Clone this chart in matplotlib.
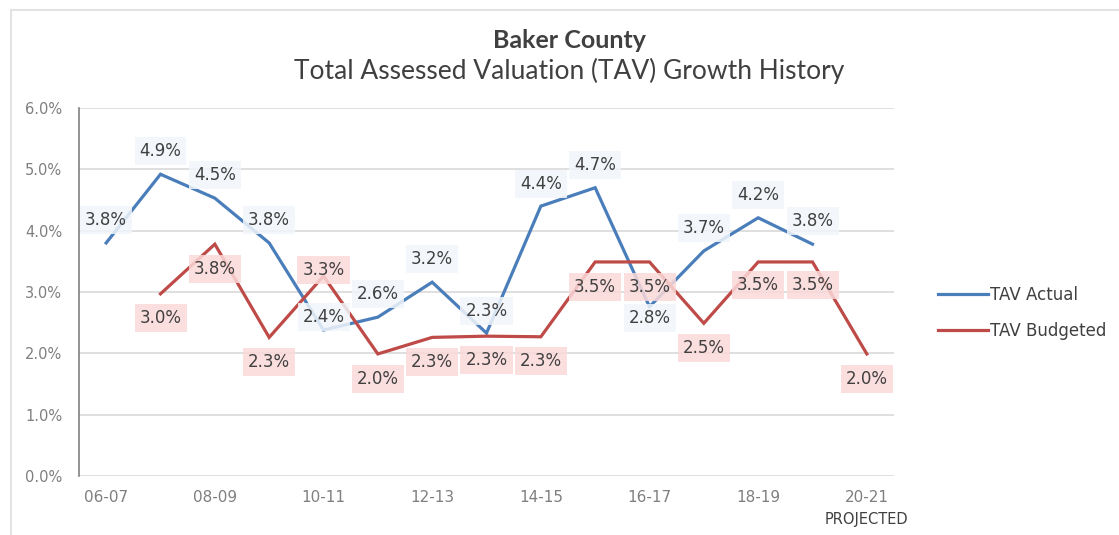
import matplotlib
matplotlib.use('Agg')
import matplotlib.pyplot as plt
import matplotlib.patches as patches
import matplotlib.ticker as ticker
import numpy as np

# DATA
years = ['06-07', '07-08', '08-09', '09-10', '10-11', '11-12', '12-13', '13-14',
         '14-15', '15-16', '16-17', '17-18', '18-19', '19-20', '20-21']
tav_actual = [3.80, 4.92, 4.53, 3.80, 2.38, 2.59, 3.16, 2.33,
              4.40, 4.70, 2.76, 3.67, 4.21, 3.78, None]
tav_budgeted = [None, 2.97, 3.78, 2.26, 3.26, 1.99, 2.26, 2.28,
                2.27, 3.49, 3.49, 2.49, 3.49, 3.49, 1.99]

# label offsets in pixels (up is positive)
actual_dy = [23, 23, 23, 23, 13, 23, 23, 22, 22, 23, -11, 23, 23, 23, 0]
budget_dy = [0, -24, -25, -25, 6, -25, -25, -24, -24, -25, -25, -25, -23, -23, -25]

BLUE = '#4A7EBB'
RED = '#BE4B48'
TEXT = '#404040'
GREY = '#7F7F7F'

plt.rcParams['font.family'] = ['DejaVu Sans']

fig = plt.figure(figsize=(11.19, 5.35), dpi=100)
ax = fig.add_axes([79 / 1119, 1 - 476 / 535, (894 - 79) / 1119, (476 - 108) / 535])

# outer chart frame (only top and left edges show)
frame = patches.Rectangle((11 / 1119, -0.2), 1.5, 0.2 + (1 - 10 / 535),
                          transform=fig.transFigure, fill=False,
                          edgecolor='#E3E3E3', linewidth=1.5)
fig.patches.append(frame)

x = np.arange(len(years))


def plot_series(values, color, label, dys, box_color):
    xs = [i for i, v in enumerate(values) if v is not None]
    ys = [v for v in values if v is not None]
    ax.plot(xs, ys, color=color, linewidth=2.3, label=label, zorder=3,
            solid_joinstyle='miter')
    for xi, yi in zip(xs, ys):
        ax.annotate(f"{yi:.1f}%", (xi, yi), xytext=(0, dys[xi] * 0.72),
                    textcoords='offset points', ha='center', va='center',
                    fontsize=12, color=TEXT, zorder=5,
                    bbox=dict(boxstyle='square,pad=0.3', facecolor=box_color,
                              edgecolor='none', alpha=0.85))


plot_series(tav_actual, BLUE, 'TAV Actual', actual_dy, '#F1F6FB')
plot_series(tav_budgeted, RED, 'TAV Budgeted', budget_dy, '#FBD9D9')

ax.set_xlim(-0.5, len(years) - 0.5)
ax.set_ylim(0, 6)
ax.yaxis.set_major_locator(ticker.MultipleLocator(1))
ax.yaxis.set_major_formatter(ticker.FuncFormatter(lambda v, p: f"{v:.1f}%"))
ax.set_xticks(x[::2])
ax.set_xticklabels(years[::2])

ax.grid(True, axis='y', color='#D9D9D9', linewidth=1.2)
ax.set_axisbelow(True)
for side in ['top', 'right', 'bottom']:
    ax.spines[side].set_visible(False)
ax.spines['left'].set_color('#808080')
ax.spines['left'].set_linewidth(1.2)
ax.tick_params(axis='both', length=0, colors=GREY)
ax.tick_params(axis='y', pad=12, labelsize=10.5)
ax.tick_params(axis='x', pad=10, labelsize=11)

# "PROJECTED" under the last category
ax.annotate('PROJECTED', (len(years) - 1, 0), xycoords=('data', 'axes fraction'),
            xytext=(0, -31), textcoords='offset points', ha='center', va='center',
            fontsize=10.5, color=TEXT)

# titles
fig.text(0.509, 1 - 40 / 535, 'Baker County', ha='center', va='center',
         fontsize=18, fontweight='bold', color=TEXT, family='Lato')
fig.text(0.509, 1 - 71 / 535, 'Total Assessed Valuation (TAV) Growth History',
         ha='center', va='center', fontsize=19, color=TEXT, family='Lato')

fig.legend(loc='center left', bbox_to_anchor=(938 / 1119, 1 - 313 / 535),
           frameon=False, fontsize=12, handlelength=3.0, handletextpad=0.1,
           labelspacing=1.1, labelcolor=TEXT, borderaxespad=0, borderpad=0)

plt.savefig('out.png', dpi=100)
